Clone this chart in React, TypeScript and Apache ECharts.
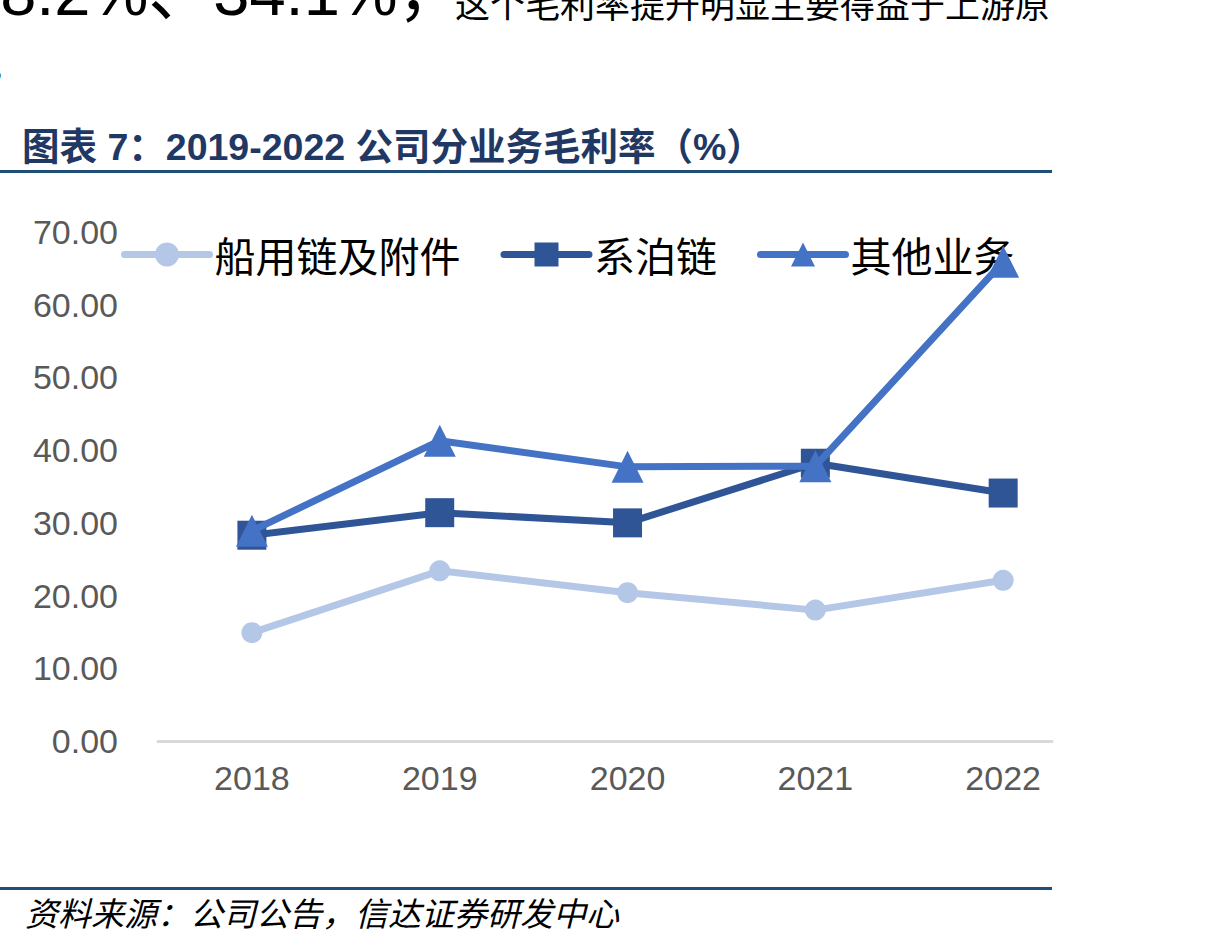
import React, { useEffect, useRef } from "react";
import * as echarts from "echarts";

const years = [2018, 2019, 2020, 2021, 2022];
const seriesNames = ["船用链及附件", "系泊链", "其他业务"];
const chainAccessories = [14.9, 23.4, 20.4, 18.0, 22.1];
const mooringChain = [28.3, 31.4, 30.0, 38.2, 34.1];
const otherBusiness = [28.9, 41.3, 37.7, 37.8, 65.9];
const yTicks = [0, 10, 20, 30, 40, 50, 60, 70];

const titleText = "图表 7：2019-2022 公司分业务毛利率（%）";
const sourceText = "资料来源：公司公告，信达证券研发中心";
const topTextNumbers = "38.2%、34.1%，";
const topTextWords = "这个毛利率提升明显主要得益于上游原";

const colors = ["#B4C7E7", "#2F5597", "#4472C4"];
const symbols = ["circle", "rect", "triangle"];
const symbolSizes = [21, 29, 32];
const allData = [chainAccessories, mooringChain, otherBusiness];

const CJK = "'Liberation Sans', 'Noto Sans CJK SC', sans-serif";

export default function App() {
  const ref = useRef<HTMLDivElement>(null);
  useEffect(() => {
    if (!ref.current) return;
    const chart = echarts.init(ref.current, null, { renderer: "svg" });
    chart.setOption({
      animation: false,
      backgroundColor: "#ffffff",
      grid: { left: 158, right: 155, top: 232, bottom: 206, containLabel: false },
      legend: {
        left: 116,
        top: 229,
        itemWidth: 85,
        itemHeight: 30,
        itemGap: 40,
        lineStyle: { width: 7, cap: "round" },
        textStyle: { fontSize: 41, color: "#000000", fontFamily: "'Noto Sans CJK SC', sans-serif" },
        data: seriesNames,
      },
      xAxis: {
        type: "value",
        min: 2017.5,
        max: 2022.26,
        axisLine: { show: true, lineStyle: { color: "#D9D9D9", width: 3 } },
        axisTick: { show: false },
        splitLine: { show: false },
        axisLabel: {
          customValues: years,
          formatter: (v: number) => String(Math.round(v)),
          color: "#595959",
          fontSize: 34,
          fontFamily: "'Liberation Sans', Arial, sans-serif",
          margin: 20,
        },
      },
      yAxis: {
        type: "value",
        min: yTicks[0],
        max: yTicks[yTicks.length - 1],
        interval: 10,
        axisLine: { show: false },
        axisTick: { show: false },
        splitLine: { show: false },
        axisLabel: {
          formatter: (v: number) => v.toFixed(2),
          color: "#595959",
          fontSize: 34,
          fontFamily: "'Liberation Sans', Arial, sans-serif",
          margin: 40,
        },
      },
      series: seriesNames.map((name, i) => ({
        name,
        type: "line",
        data: years.map((y, j) => [y, allData[i][j]]),
        symbol: symbols[i],
        symbolSize: symbolSizes[i],
        showSymbol: true,
        color: colors[i],
        lineStyle: { color: colors[i], width: 7 },
        itemStyle: { color: colors[i] },
        z: i + 2,
      })),
      graphic: [
        {
          type: "text",
          x: -36,
          y: -8,
          style: {
            text: topTextNumbers,
            fontSize: 65,
            fill: "#000000",
            fontFamily: CJK,
            verticalAlign: "middle",
          },
        },
        {
          type: "text",
          left: 455,
          top: -12,
          style: { text: topTextWords, fontSize: 35, fill: "#000000", fontFamily: CJK },
        },
        {
          type: "text",
          left: -12,
          top: 48,
          style: { text: "。", fontSize: 36, fill: "#000000", fontFamily: CJK },
        },
        {
          type: "text",
          left: 22,
          top: 128,
          style: {
            text: titleText,
            fontSize: 37.5,
            fontWeight: "bold",
            fill: "#1F3864",
            fontFamily: CJK,
          },
        },
        {
          type: "rect",
          shape: { x: 0, y: 170, width: 1052, height: 3 },
          style: { fill: "#1F4E79" },
        },
        {
          type: "rect",
          shape: { x: 0, y: 887, width: 1052, height: 3 },
          style: { fill: "#1F4E79" },
        },
        {
          type: "text",
          left: 25,
          top: 898,
          style: {
            text: sourceText,
            fontSize: 33,
            fontStyle: "italic",
            fill: "#000000",
            fontFamily: CJK,
          },
        },
      ],
    });
    return () => chart.dispose();
  }, []);
  return (
    <div
      ref={ref}
      style={{ position: "fixed", left: 0, top: 0, width: 1207, height: 947, background: "#fff" }}
    />
  );
}
